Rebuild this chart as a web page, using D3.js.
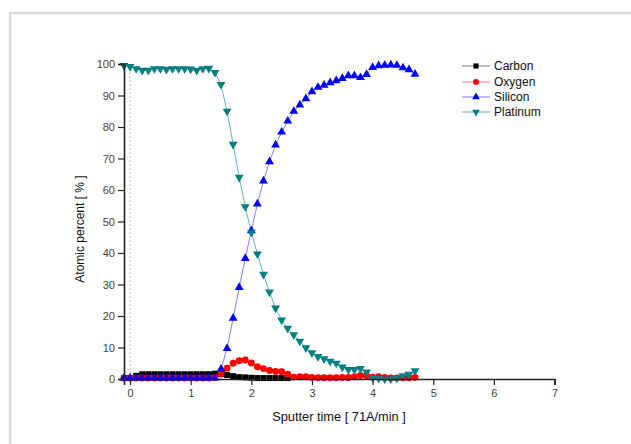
<!DOCTYPE html>
<html>
<head>
<meta charset="utf-8">
<script src="https://cdn.jsdelivr.net/npm/d3@7"></script>
<style>
  body { margin: 0; background: #fff; }
  svg { display: block; font-family: "Liberation Sans", Arial, sans-serif; }
</style>
</head>
<body>
<div class="graph-goes-here"></div>
<script>
// sputter time steps, 0.1 apart starting at -0.1
var times = d3.range(49).map(i => Math.round(i - 1) / 10);

var carbon = [0.3, 0.3, 1.0, 1.5, 1.5, 1.5, 1.5, 1.5, 1.5, 1.5, 1.5, 1.5, 1.5, 1.5, 1.5, 1.7,
    1.6, 1.3, 0.9, 0.6, 0.5, 0.4, 0.3, 0.3, 0.3, 0.3, 0.3, 0.3];

var oxygen = [0.3, 0.3, 0.3, 0.3, 0.3, 0.3, 0.3, 0.3, 0.3, 0.3, 0.3, 0.3, 0.3, 0.3, 0.3, 0.5,
    1.6, 3.4, 5.0, 5.8, 6.0, 5.1, 3.9, 3.3, 2.7, 2.4, 2.3, 1.5, 0.6, 0.7, 0.7, 0.5,
    0.4, 0.4, 0.4, 0.4, 0.5, 0.5, 0.7, 1.1, 1.0, 0.6, 0.7, 0.5, 0.3, 0.3, 0.4, 0.4, 0.5];

var silicon = [0.3, 0.3, 0.3, 0.3, 0.3, 0.3, 0.3, 0.3, 0.3, 0.3, 0.3, 0.3, 0.3, 0.3, 0.3, 0.3,
    3.1, 9.7, 19.3, 29.1, 38.3, 47.1, 55.6, 62.9, 69.0, 74.3, 78.4, 81.9, 85.0, 87.0,
    89.0, 91.2, 92.6, 93.3, 94.1, 94.7, 95.4, 96.3, 96.3, 95.7, 96.7, 98.9, 99.5, 99.6,
    99.7, 99.6, 98.8, 98.2, 96.8];

var platinum = [99.5, 99.2, 98.5, 98.0, 98.0, 98.5, 98.5, 98.3, 98.5, 98.5, 98.5, 98.4, 98.0,
    98.5, 98.6, 97.3, 93.5, 85.0, 74.5, 64.0, 54.7, 46.6, 39.7, 33.2, 27.6, 22.5, 18.7,
    16.1, 14.0, 12.0, 9.9, 8.3, 7.1, 6.4, 5.6, 5.0, 3.8, 3.0, 3.0, 3.3, 2.2, 0.4, 0.2,
    0.0, 0.0, 0.3, 1.0, 1.5, 2.6];

var seriesNames = ["Carbon", "Oxygen", "Silicon", "Platinum"];
var seriesValues = [carbon, oxygen, silicon, platinum];
var lineColors = ["#808080", "#ff8080", "#8080ff", "#5fb5b5"];
var markColors = ["#000000", "#ff0000", "#0000ff", "#008080"];
var markShapes = [d3.symbolSquare, d3.symbolCircle, d3.symbolTriangle, d3.symbolTriangle];
var markSizes = [36, 38, 34, 34];
var markRotate = [0, 0, 0, 180];

var xTicks = [0, 1, 2, 3, 4, 5, 6, 7];
var yTicks = [0, 10, 20, 30, 40, 50, 60, 70, 80, 90, 100];

var W = 631, H = 444;
var svg = d3.select(".graph-goes-here").append("svg")
    .attr("width", W).attr("height", H);

// gray frame around the figure
svg.append("path")
    .attr("d", "M10,460 L10,13 L640,13")
    .attr("fill", "none")
    .attr("stroke", "#d9d9d9")
    .attr("stroke-width", 2.5);

var x = d3.scaleLinear().domain([-0.1, 7]).range([124, 554.5]);
var y = d3.scaleLinear().domain([0, 100]).range([379, 64]);

// dotted guide at zero time
svg.append("line")
    .attr("x1", x(0)).attr("x2", x(0))
    .attr("y1", y(100)).attr("y2", y(0))
    .attr("stroke", "#bbb")
    .attr("stroke-width", 1)
    .attr("stroke-dasharray", "2,2");

// lines first, markers on top
seriesValues.forEach((vals, s) => {
    var pts = vals.map((v, i) => ({ t: times[i], v: v }));
    svg.append("path")
        .datum(pts)
        .attr("fill", "none")
        .attr("stroke", lineColors[s])
        .attr("stroke-width", 1)
        .attr("d", d3.line().x(d => x(d.t)).y(d => y(d.v)));
});

seriesValues.forEach((vals, s) => {
    var pts = vals.map((v, i) => ({ t: times[i], v: v }));
    svg.append("g").selectAll("path")
        .data(pts)
        .join("path")
        .attr("transform", d => "translate(" + x(d.t) + "," + y(d.v) + ") rotate(" + markRotate[s] + ")")
        .attr("d", d3.symbol().type(markShapes[s]).size(markSizes[s]))
        .attr("fill", markColors[s]);
});

// axes
var minorX = d3.range(0, 7.01, 0.2).filter(v => Math.abs(v - Math.round(v)) > 0.01);
var minorY = d3.range(0, 101, 2).filter(v => v % 10 != 0);

var xAxis = svg.append("g").attr("transform", "translate(0," + y(0) + ")");
xAxis.call(d3.axisBottom(x).tickValues(minorX).tickSize(3).tickFormat(""));
xAxis.call(d3.axisBottom(x).tickValues(xTicks).tickSize(6).tickPadding(4).tickFormat(d3.format("d")));

var yAxis = svg.append("g").attr("transform", "translate(" + x(-0.1) + ",0)");
yAxis.call(d3.axisLeft(y).tickValues(minorY).tickSize(3).tickFormat(""));
yAxis.call(d3.axisLeft(y).tickValues(yTicks).tickSize(6).tickPadding(3));

svg.selectAll(".domain").attr("stroke", "#222").attr("stroke-width", 1.6);
svg.selectAll(".tick line").attr("stroke", "#222").attr("stroke-width", 1.2);
svg.selectAll(".tick text")
    .attr("fill", "#444")
    .style("font-size", "11px")
    .style("font-family", "'Liberation Sans', Arial, sans-serif");

// axis titles
svg.append("text")
    .attr("x", 339).attr("y", 421)
    .attr("text-anchor", "middle")
    .attr("fill", "#111")
    .style("font-size", "12.8px")
    .text("Sputter time [ 71A/min ]");

svg.append("text")
    .attr("transform", "translate(84,229) rotate(-90)")
    .attr("text-anchor", "middle")
    .attr("fill", "#111")
    .style("font-size", "12px")
    .text("Atomic percent [ % ]");

// legend
var legendY = [66, 82, 97, 112];
seriesNames.forEach((name, s) => {
    var g = svg.append("g").attr("transform", "translate(462," + legendY[s] + ")");
    g.append("line").attr("x1", 0).attr("x2", 28)
        .attr("stroke", lineColors[s]).attr("stroke-width", 1);
    g.append("path")
        .attr("transform", "translate(14,0) rotate(" + markRotate[s] + ")")
        .attr("d", d3.symbol().type(markShapes[s]).size(markSizes[s] * 0.75))
        .attr("fill", markColors[s]);
    g.append("text")
        .attr("x", 32).attr("y", 4)
        .attr("fill", "#111")
        .style("font-size", "12px")
        .text(name);
});
</script>
</body>
</html>
